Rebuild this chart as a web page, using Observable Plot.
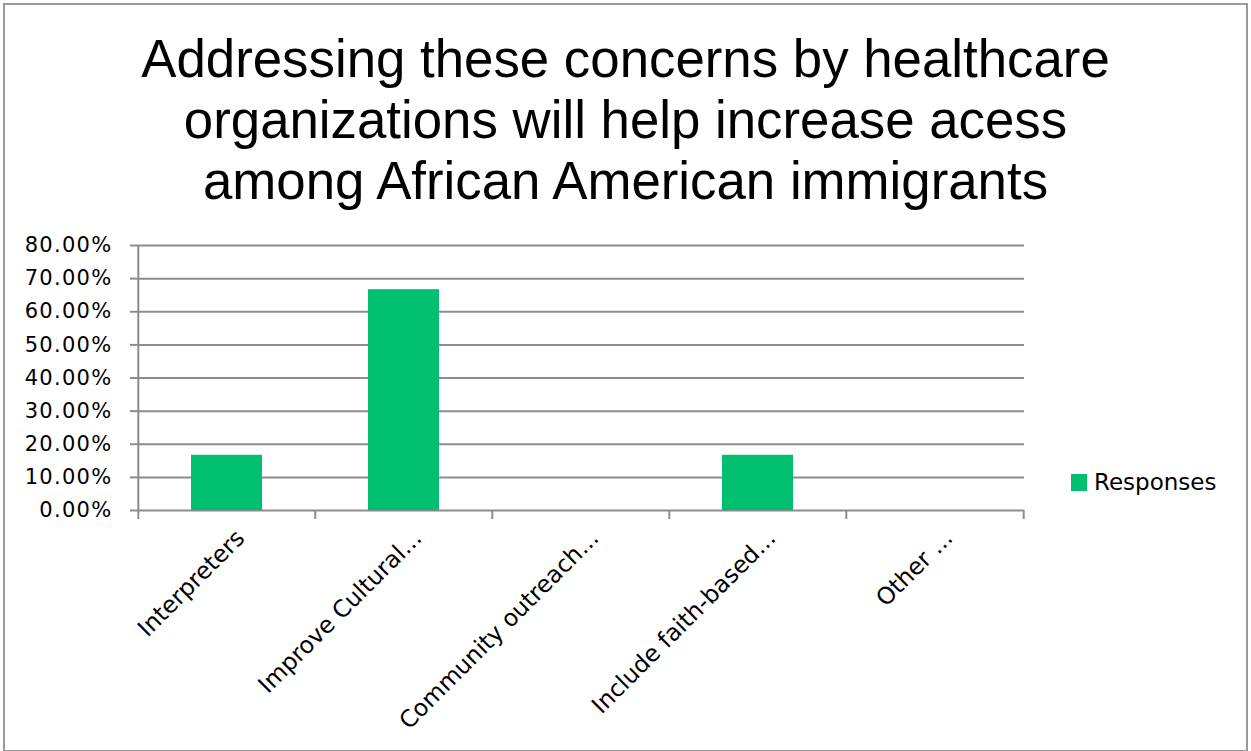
<!DOCTYPE html>
<html>
<head>
<meta charset="utf-8">
<script src="https://cdn.jsdelivr.net/npm/d3@7"></script>
<script src="https://cdn.jsdelivr.net/npm/@observablehq/plot@0.6"></script>
<style>
  html, body { margin: 0; padding: 0; background: #fff; }
  #page { position: relative; width: 1251px; height: 751px; overflow: hidden; background: #fff; }
  #frame { position: absolute; left: 3px; top: 3px; width: 1245px; height: 749px; border: 2px solid #9a9a9a; box-sizing: border-box; }
  #title { position: absolute; left: 0; top: 28px; width: 1251px; text-align: center;
           font-family: "Liberation Sans", Arial, sans-serif; font-size: 52.8px; line-height: 61px; color: #000; }
  #chart { position: absolute; left: 0; top: 0; }
  #chart g[aria-label="y-axis tick label"] text { letter-spacing: 1.3px; }
  #legend { position: absolute; left: 1071px; top: 469px; display: flex; align-items: center;
            font-family: "DejaVu Sans", sans-serif; font-size: 23px; color: #000; }
  #legend .sw { width: 16px; height: 17px; margin-right: 7px; }
</style>
</head>
<body>
<div id="page">
  <div id="frame"></div>
  <div id="chart"></div>
  <div id="title"></div>
  <div id="legend"></div>
</div>
<script>
const titleLines = [
  "Addressing these concerns by healthcare",
  "organizations will help increase acess",
  "among African American immigrants"
];
const categories = ["Interpreters", "Improve Cultural...", "Community outreach...", "Include faith-based...", "Other ..."];
const values = [0.1667, 0.6667, 0, 0.1667, 0];
const yTicks = [0, 0.1, 0.2, 0.3, 0.4, 0.5, 0.6, 0.7, 0.8];
const seriesName = "Responses";
const barColor = "#00bf6f";
const gridColor = "#8c8c8c";

const data = categories.map((c, i) => ({category: c, value: values[i]}));

const W = 1251, H = 751;
const mL = 137, mR = 227, mT = 245, mB = 241;
const step = (W - mL - mR) / categories.length;

const chart = Plot.plot({
  width: W,
  height: H,
  marginLeft: mL,
  marginRight: mR,
  marginTop: mT,
  marginBottom: mB,
  style: {background: "transparent", overflow: "visible"},
  x: {domain: categories, paddingInner: 0.6, paddingOuter: 0.3, axis: null},
  y: {domain: [0, 0.8], axis: null},
  marks: [
    Plot.ruleY(yTicks, {y: d => d, stroke: gridColor, strokeWidth: 2}),
    Plot.axisY({
      ticks: yTicks, tickFormat: d3.format(".2%"), tickSize: 7, tickPadding: 18,
      stroke: gridColor, strokeWidth: 2, fill: "#000",
      fontSize: 21, fontFamily: "DejaVu Sans", label: null
    }),
    Plot.ruleX(categories, {x: d => d, y1: 0, y2: 0, dx: -step / 2, insetBottom: -9, stroke: gridColor, strokeWidth: 2}),
    Plot.ruleX(categories.slice(-1), {x: d => d, y1: 0, y2: 0, dx: step / 2, insetBottom: -9, stroke: gridColor, strokeWidth: 2}),
    Plot.ruleX([0], {x: () => categories[0], y1: 0, y2: 0.8, dx: -step / 2, stroke: gridColor, strokeWidth: 2}),
    Plot.barY(data, {x: "category", y: "value", fill: barColor}),
    Plot.text(categories, {
      x: d => d, frameAnchor: "bottom", text: d => d,
      rotate: -45, textAnchor: "end", dx: 19, dy: 29,
      fontSize: 23.5, fontFamily: "DejaVu Sans", fill: "#000"
    })
  ]
});
document.getElementById("chart").appendChild(chart);

const t = document.getElementById("title");
titleLines.forEach(l => { const d = document.createElement("div"); d.textContent = l; t.appendChild(d); });

const lg = document.getElementById("legend");
const sw = document.createElement("div"); sw.className = "sw"; sw.style.background = barColor;
const lt = document.createElement("span"); lt.textContent = seriesName;
lg.appendChild(sw); lg.appendChild(lt);
</script>
</body>
</html>
